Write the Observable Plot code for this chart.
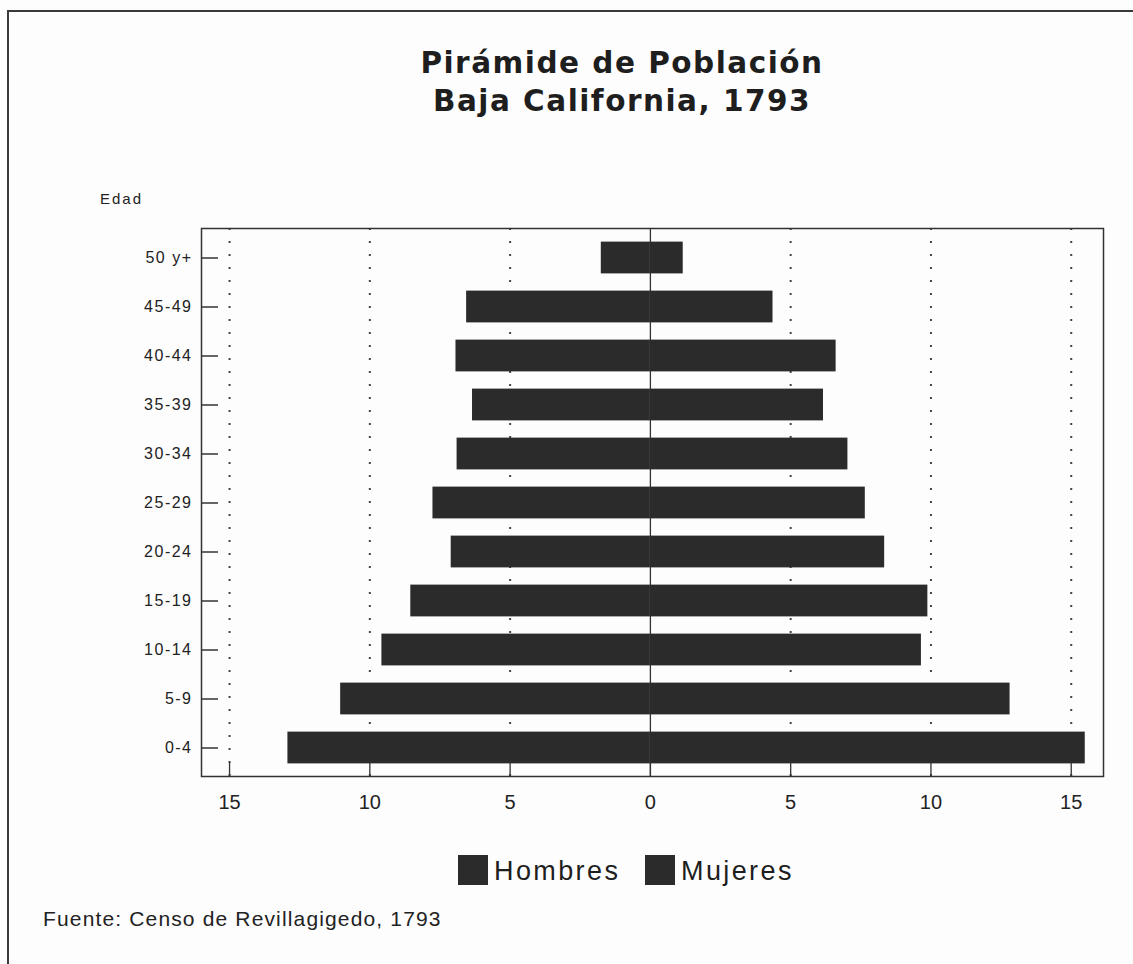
<!DOCTYPE html>
<html>
<head>
<meta charset="utf-8">
<script src="https://cdn.jsdelivr.net/npm/d3@7"></script>
<script src="https://cdn.jsdelivr.net/npm/@observablehq/plot@0.6"></script>
<style>
  html, body { margin: 0; padding: 0; background: #fff; }
  #page { position: relative; width: 1133px; height: 964px; overflow: hidden; background: #fdfdfd; font-family: "Liberation Sans", Arial, sans-serif; color: #222; }
  #borderTop { position: absolute; left: 7px; top: 10px; width: 1126px; height: 2px; background: #3a3a3a; }
  #borderLeft { position: absolute; left: 7px; top: 10px; width: 2px; height: 954px; background: #3a3a3a; }
  #title { position: absolute; left: 322px; top: 44px; width: 600px; text-align: center; font-family: "DejaVu Sans", sans-serif; font-weight: bold; font-size: 29.5px; line-height: 38px; letter-spacing: 1.5px; color: #1e1e1e; }
  #edad { position: absolute; left: 100px; top: 190px; font-size: 15px; letter-spacing: 2px; line-height: 17px; color: #222; }
  #chart { position: absolute; left: 0; top: 170px; }
  #legend { position: absolute; top: 852px; left: 0; width: 1133px; height: 40px; }
  .sw { position: absolute; top: 3px; width: 30px; height: 30px; background: #232323; }
  .lt { position: absolute; top: 3px; font-size: 27px; line-height: 32px; letter-spacing: 2.4px; color: #1e1e1e; }
  #caption { position: absolute; left: 43px; top: 907px; font-size: 21px; line-height: 24px; letter-spacing: 1.15px; color: #222; }
  svg g[aria-label="y-axis tick label"] text { letter-spacing: 1.5px; }
</style>
</head>
<body>
<div id="page">
  <div id="borderTop"></div>
  <div id="borderLeft"></div>
  <div id="title">Pirámide de Población<br>Baja California, 1793</div>
  <div id="edad">Edad</div>
  <div id="chart"></div>
  <div id="legend"></div>
  <div id="caption">Fuente: Censo de Revillagigedo, 1793</div>
</div>
<script>
// Age groups, top to bottom
const ages = ["50 y+", "45-49", "40-44", "35-39", "30-34", "25-29", "20-24", "15-19", "10-14", "5-9", "0-4"];
// Percent values
const hombres = [1.75, 6.55, 6.93, 6.34, 6.89, 7.75, 7.10, 8.54, 9.57, 11.04, 12.92];
const mujeres = [1.17, 4.37, 6.62, 6.17, 7.04, 7.66, 8.35, 9.89, 9.66, 12.82, 15.5];
const xTicks = [-15, -10, -5, 0, 5, 10, 15];
const gridTicks = [-15, -10, -5, 5, 10, 15];
const seriesNames = ["Hombres", "Mujeres"];
const barColor = "#2b2b2b";

const rows = ages.map((a, i) => ({age: a, hombres: hombres[i], mujeres: mujeres[i]}));

const chart = Plot.plot({
  width: 1133,
  height: 660,
  marginTop: 58,
  marginBottom: 54,
  marginLeft: 201,
  marginRight: 30,
  style: {fontFamily: "Liberation Sans, Arial, sans-serif", color: "#222", background: "transparent"},
  x: {domain: [-16, 16.15], ticks: xTicks, tickFormat: d => Math.abs(d), label: null},
  y: {domain: ages, padding: 0, label: null},
  marks: [
    Plot.ruleX(gridTicks, {x: d => d, stroke: "#444", strokeWidth: 2, strokeDasharray: "2,11"}),
    Plot.ruleX([0], {stroke: "#333", strokeWidth: 1.3}),
    Plot.barX(rows, {x: d => -d.hombres, y: "age", fill: barColor, insetTop: 8.6, insetBottom: 8.6}),
    Plot.barX(rows, {x: "mujeres", y: "age", fill: barColor, insetTop: 8.6, insetBottom: 8.6}),
    Plot.frame({stroke: "#333", strokeWidth: 1.5}),
    // inward ticks
    Plot.axisY({anchor: "left", text: null, tickSize: 17, dx: 17, stroke: "#333", strokeWidth: 1.5}),
    Plot.axisX({anchor: "bottom", ticks: xTicks, text: null, tickSize: 14, dy: -14, stroke: "#333", strokeWidth: 1.3}),
    // labels
    Plot.axisY({anchor: "left", tickSize: 0, tickPadding: 9, fontSize: 16, label: null}),
    Plot.axisX({anchor: "bottom", ticks: xTicks, tickFormat: d => Math.abs(d), tickSize: 0, tickPadding: 18, fontSize: 20, label: null})
  ]
});
document.getElementById("chart").appendChild(chart);

// Legend
const legend = document.getElementById("legend");
const legendPos = [{sw: 458, tx: 494}, {sw: 645, tx: 681}];
seriesNames.forEach((name, i) => {
  const sw = document.createElement("div");
  sw.className = "sw";
  sw.style.left = legendPos[i].sw + "px";
  sw.style.background = barColor;
  legend.appendChild(sw);
  const t = document.createElement("div");
  t.className = "lt";
  t.style.left = legendPos[i].tx + "px";
  t.textContent = name;
  legend.appendChild(t);
});
</script>
</body>
</html>
